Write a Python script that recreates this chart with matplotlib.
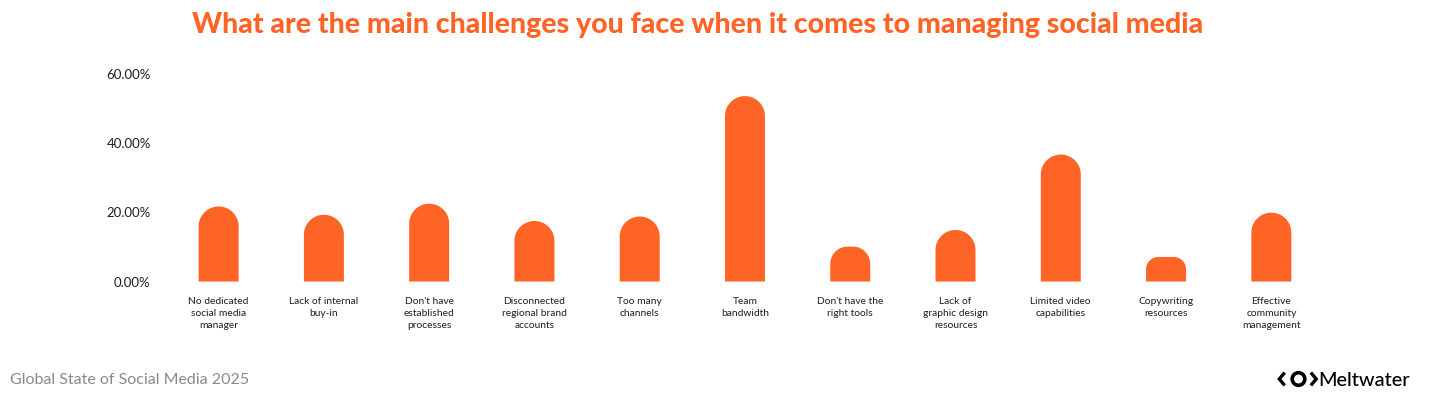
import numpy as np
import matplotlib
matplotlib.use("Agg")
import matplotlib.pyplot as plt
from matplotlib.patches import Polygon, Circle
from matplotlib.lines import Line2D

# Chart data
categories = [
    "No dedicated\nsocial media\nmanager",
    "Lack of internal\nbuy-in",
    "Don't have\nestablished\nprocesses",
    "Disconnected\nregional brand\naccounts",
    "Too many\nchannels",
    "Team\nbandwidth",
    "Don't have the\nright tools",
    "Lack of\ngraphic design\nresources",
    "Limited video\ncapabilities",
    "Copywriting\nresources",
    "Effective\ncommunity\nmanagement",
]
values = [21.7, 19.3, 22.5, 17.5, 18.8, 53.6, 10.1, 14.9, 36.7, 7.1, 19.9]
y_ticks = [0, 20, 40, 60]
y_tick_labels = ["0.00%", "20.00%", "40.00%", "60.00%"]

title = "What are the main challenges you face when it comes to managing social media"
footer = "Global State of Social Media 2025"

ORANGE = "#FF6427"
TEXT = "#1f1f1f"

plt.rcParams["font.family"] = ["Lato", "DejaVu Sans"]

fig = plt.figure(figsize=(14.31, 3.95), dpi=100)
ax = fig.add_axes([0.116, 0.2873, 0.8092, 0.5254])
ax.set_xlim(-0.5, len(values) - 0.5)
ax.set_ylim(0, 60)


def rounded_bar(ax, x, h, width, color):
    # top corners rounded with a radius in pixels, clamped to half width / half height
    p0 = ax.transData.transform((0, 0))
    p1 = ax.transData.transform((1, 1))
    sx, sy = p1 - p0
    r = min(width * sx / 2, h * sy / 2)
    rx, ry = r / sx, r / sy
    left, right = x - width / 2, x + width / 2
    t = np.linspace(0, np.pi / 2, 30)
    pts = [(left, 0), (right, 0)]
    cy = h - ry
    pts += list(zip(right - rx + rx * np.cos(t), cy + ry * np.sin(t)))
    pts += list(zip(left + rx + rx * np.cos(t + np.pi / 2), cy + ry * np.sin(t + np.pi / 2)))
    ax.add_patch(Polygon(pts, closed=True, facecolor=color, edgecolor="none"))


for i, v in enumerate(values):
    rounded_bar(ax, i, v, 0.38, ORANGE)

ax.set_yticks(y_ticks, y_tick_labels)
ax.set_xticks(range(len(categories)), categories)
ax.tick_params(axis="y", length=0, pad=11, labelsize=9.5, labelcolor=TEXT)
ax.tick_params(axis="x", length=0, pad=11, labelsize=7.4, labelcolor=TEXT)
for lab in ax.get_xticklabels():
    lab.set_linespacing(1.42)
for s in ax.spines.values():
    s.set_visible(False)

fig.text(0.4878, 0.9165, title, ha="center", va="baseline", fontsize=20.5,
         fontweight="black", color=ORANGE)
fig.text(0.007, 0.029, footer, ha="left", va="baseline", fontsize=11.5, color="#8a8a8a")

# Meltwater logo: chevrons + ring, then the word mark
cy = 0.0405
fig.add_artist(Line2D([0.8970, 0.8940, 0.8970], [cy + 0.013, cy, cy - 0.013],
                      transform=fig.transFigure, color="black", lw=2.4,
                      solid_joinstyle="miter"))
fig.add_artist(Line2D([0.9168, 0.9198, 0.9168], [cy + 0.013, cy, cy - 0.013],
                      transform=fig.transFigure, color="black", lw=2.4,
                      solid_joinstyle="miter"))
fig.add_artist(Circle((1298.5, cy * 395), 6.3, transform=None, facecolor="none",
                      edgecolor="black", lw=2.6))
fig.text(0.9212, 0.024, "Meltwater", ha="left", va="baseline", fontsize=14.3,
         fontweight="medium", color="black")

fig.savefig("out.png", dpi=100, facecolor="white")
